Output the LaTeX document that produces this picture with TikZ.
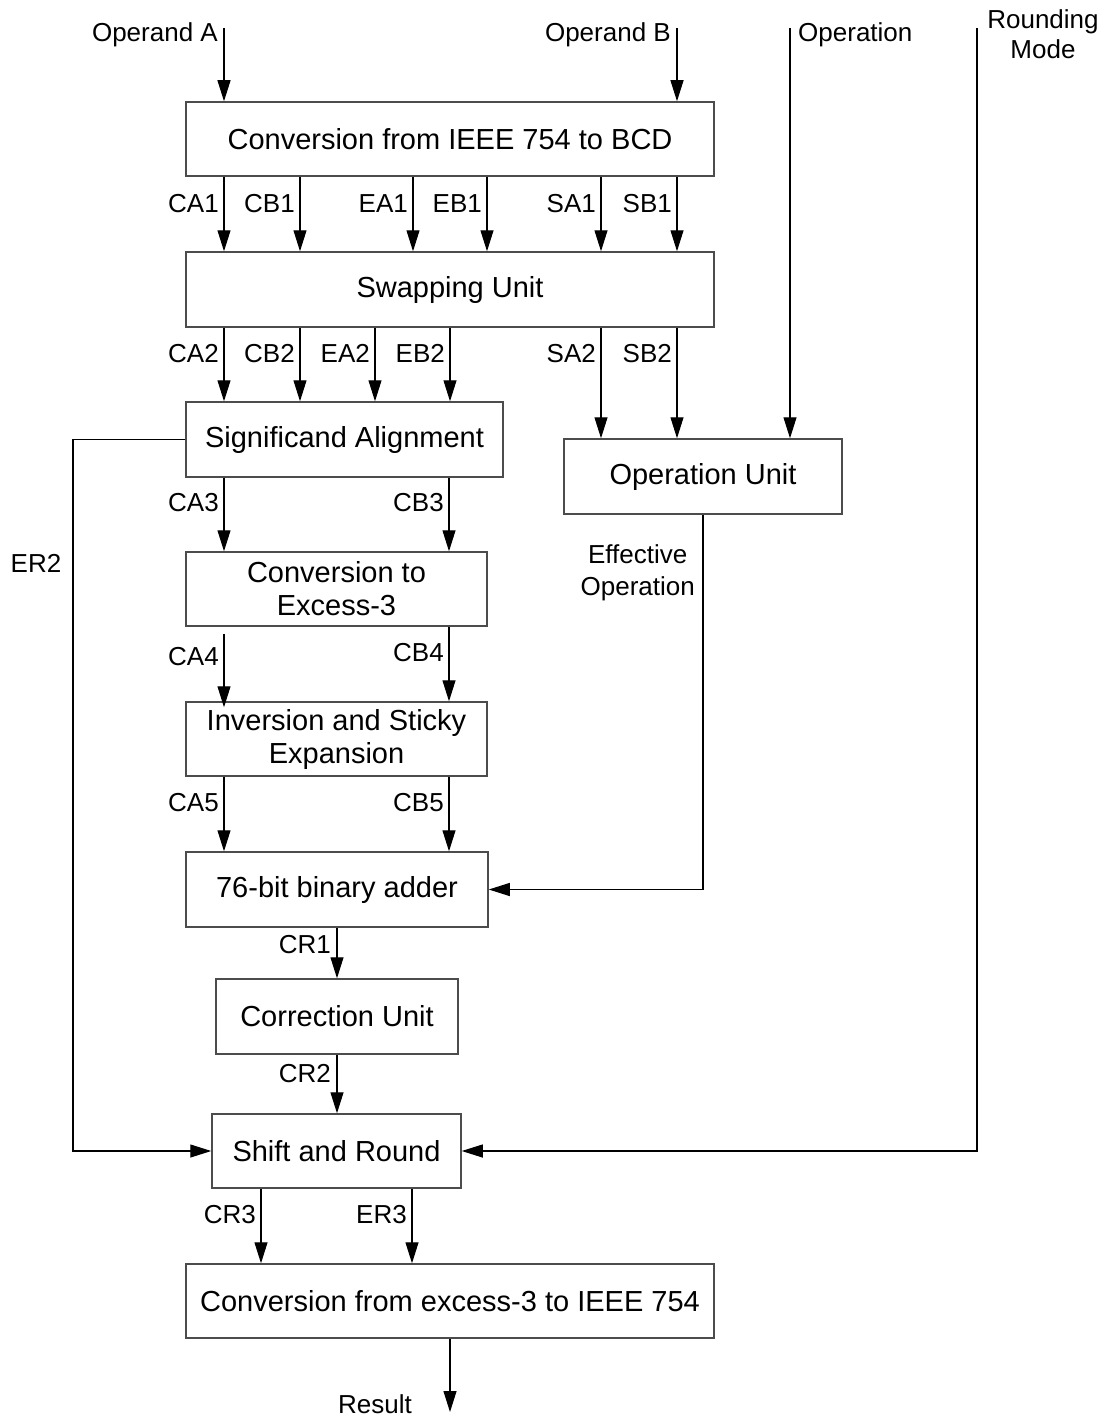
\documentclass[tikz,border=0pt]{standalone}
\usepackage{fontspec}
\setmainfont{Liberation Sans}
\usetikzlibrary{arrows.meta}
\begin{document}
\begin{tikzpicture}[x=1pt,y=-1pt,
  box/.style={draw=black!70,line width=1.5pt,inner sep=0pt,align=center,
    font=\fontsize{29}{33}\selectfont},
  lbl/.style={inner sep=0pt,anchor=base east,font=\fontsize{26}{30}\selectfont},
  arr/.style={draw=black,line width=1.1pt,-{Triangle[length=21pt,width=13pt]}},
  wire/.style={draw=black,line width=1.1pt}]
\useasboundingbox (0,0) rectangle (1105,1418);

% processing blocks
\node[box,minimum width=528pt,minimum height=74pt] (conv) at (450,139) {Conversion from IEEE 754 to BCD};
\node[box,minimum width=528pt,minimum height=75pt] (swap) at (450,289.5) {Swapping Unit};
\node[box,minimum width=317pt,minimum height=75pt] (align) at (344.5,439.5) {Significand Alignment};
\node[box,minimum width=278pt,minimum height=75pt] (opu) at (703,476.5) {Operation Unit};
\node[box,minimum width=301pt,minimum height=74pt] (ex3) at (336.5,589) {Conversion to\\Excess-3};
\node[box,minimum width=301pt,minimum height=74pt] (inv) at (336.5,739) {Inversion and Sticky\\Expansion};
\node[box,minimum width=302pt,minimum height=75pt] (add) at (337,889.5) {76-bit binary adder};
\node[box,minimum width=242pt,minimum height=75pt] (corr) at (337,1016.5) {Correction Unit};
\node[box,minimum width=249pt,minimum height=74pt] (shr) at (336.5,1151) {Shift and Round};
\node[box,minimum width=528pt,minimum height=74pt] (outc) at (450,1301) {Conversion from excess-3 to IEEE 754};

% wire columns
\coordinate (xCA) at (224,0);
\coordinate (xCB) at (300,0);
\coordinate (xEA1) at (413,0);
\coordinate (xEB1) at (487,0);
\coordinate (xEA2) at (375,0);
\coordinate (xEB2) at (450,0);
\coordinate (xSA) at (601,0);
\coordinate (xSB) at (677,0);
\coordinate (xCB3) at (449,0);
\coordinate (xCR3) at (261,0);
\coordinate (xER3) at (412,0);

% primary inputs
\coordinate (inA) at (224,28);
\coordinate (inB) at (677,28);
\coordinate (inOp) at (790,28);
\coordinate (inRm) at (977,28);
\coordinate (rmTurn) at (977,1151);
\coordinate (erTurn) at (73,0);
\coordinate (effTurn) at (703,889.5);
\coordinate (res) at (450,1412);

\draw[arr] (inA) -- (inA |- conv.north);
\draw[arr] (inB) -- (inB |- conv.north);
\draw[arr] (inOp) -- (inOp |- opu.north);
\draw[arr] (inRm) -- (rmTurn) -- (shr.east);
\node[lbl] (tA) at (218,42) {Operand A};
\node[lbl] (tB) at (671,42) {Operand B};
\node[lbl,anchor=base west] (tOp) at (798,42) {Operation};
\node[inner sep=0pt,align=center,font=\fontsize{26}{30}\selectfont] (tRm) at (1043,34) {Rounding\\Mode};

% conversion -> swapping
\foreach \c/\t in {xCA/CA1,xCB/CB1,xEA1/EA1,xEB1/EB1,xSA/SA1,xSB/SB1}{
  \draw[arr] (\c |- conv.south) -- (\c |- swap.north);
  \node[lbl] at ([xshift=-5pt]\c |- 0,212) {\t};
}

% swapping -> alignment / operation unit
\foreach \c/\t in {xCA/CA2,xCB/CB2,xEA2/EA2,xEB2/EB2}{
  \draw[arr] (\c |- swap.south) -- (\c |- align.north);
  \node[lbl] at ([xshift=-5pt]\c |- 0,362) {\t};
}
\foreach \c/\t in {xSA/SA2,xSB/SB2}{
  \draw[arr] (\c |- swap.south) -- (\c |- opu.north);
  \node[lbl] at ([xshift=-5pt]\c |- 0,362) {\t};
}

% exponent path to shift and round
\draw[arr] (align.west) -- (erTurn |- align.west) -- (erTurn |- shr.west) -- (shr.west);
\node[inner sep=0pt,font=\fontsize{26}{30}\selectfont] (tER2) at (36,563) {ER2};

% significand datapath
\draw[arr] (xCA |- align.south) -- (xCA |- ex3.north);
\draw[arr] (xCB3 |- align.south) -- (xCB3 |- ex3.north);
\node[lbl] (tCA3) at (219,511) {CA3};
\node[lbl] (tCB3) at (444,511) {CB3};

\draw[arr,shorten <=7pt,shorten >=-6pt] (xCA |- ex3.south) -- (xCA |- inv.north);
\draw[arr] (xCB3 |- ex3.south) -- (xCB3 |- inv.north);
\node[lbl] (tCA4) at (219,665) {CA4};
\node[lbl] (tCB4) at (444,661) {CB4};

\draw[arr] (xCA |- inv.south) -- (xCA |- add.north);
\draw[arr] (xCB3 |- inv.south) -- (xCB3 |- add.north);
\node[lbl] (tCA5) at (219,811) {CA5};
\node[lbl] (tCB5) at (444,811) {CB5};

% effective operation into the adder
\draw[arr] (opu.south) -- (effTurn) -- (add.east);
\node[inner sep=0pt,align=center,anchor=east,font=\fontsize{26}{32}\selectfont] (tEff) at (695,573) {Effective\\Operation};

% result path
\draw[arr] (add.south) -- (corr.north);
\node[lbl] (tCR1) at (331,953) {CR1};
\draw[arr] (corr.south) -- (corr.south |- shr.north);
\node[lbl] (tCR2) at (331,1082) {CR2};

\draw[arr] (xCR3 |- shr.south) -- (xCR3 |- outc.north);
\draw[arr] (xER3 |- shr.south) -- (xER3 |- outc.north);
\node[lbl] (tCR3) at (256,1223) {CR3};
\node[lbl] (tER3) at (407,1223) {ER3};

\draw[arr] (outc.south) -- (res);
\node[lbl] (tRes) at (412,1413) {Result};
\end{tikzpicture}
\end{document}
